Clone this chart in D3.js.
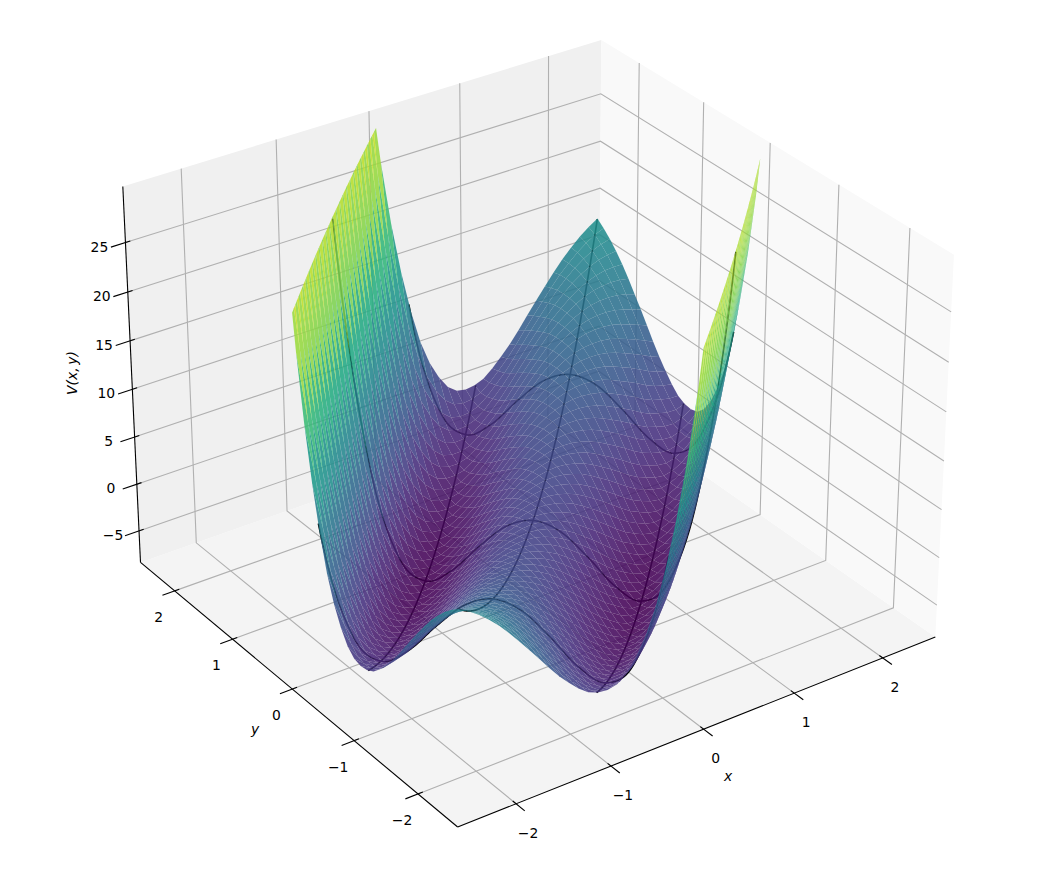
<!DOCTYPE html>
<html><head><meta charset="utf-8">
<script src="https://cdn.jsdelivr.net/npm/d3@7"></script>
<style>html,body{margin:0;background:#fff}svg{display:block}text{font-family:"DejaVu Sans";font-size:13.9px;fill:#000}</style>
</head><body><svg id="c" width="1040" height="875"></svg>
<script>
const xTicks=[-2,-1,0,1,2], yTicks=[-2,-1,0,1,2], zTicks=[-5,0,5,10,15,20,25];
const uSamples=[-2,-1.75,-1.5,-1.25,-1,-.75,-.5,-.25,0,.25,.5,.75,1,1.25,1.5,1.75,2];
const vSamples=[-5,-4,-3,-2,-1,0,1,2,3,4,5];
const surfaceValues=[
[85,49.4,29.2,19.9,17.5,18.9,21.7,24.1,25,24.1,21.7,18.9,17.5,19.9,29.2,49.4,85],
[76,40.4,20.2,10.9,8.5,9.9,12.7,15.1,16,15.1,12.7,9.9,8.5,10.9,20.2,40.4,76],
[69,33.4,13.2,3.9,1.5,2.9,5.7,8.1,9,8.1,5.7,2.9,1.5,3.9,13.2,33.4,69],
[64,28.4,8.2,-1.1,-3.5,-2.1,.7,3.1,4,3.1,.7,-2.1,-3.5,-1.1,8.2,28.4,64],
[61,25.4,5.2,-4.1,-6.5,-5.1,-2.3,.1,1,.1,-2.3,-5.1,-6.5,-4.1,5.2,25.4,61],
[60,24.4,4.2,-5.1,-7.5,-6.1,-3.3,-.9,0,-.9,-3.3,-6.1,-7.5,-5.1,4.2,24.4,60],
[61,25.4,5.2,-4.1,-6.5,-5.1,-2.3,.1,1,.1,-2.3,-5.1,-6.5,-4.1,5.2,25.4,61],
[64,28.4,8.2,-1.1,-3.5,-2.1,.7,3.1,4,3.1,.7,-2.1,-3.5,-1.1,8.2,28.4,64],
[69,33.4,13.2,3.9,1.5,2.9,5.7,8.1,9,8.1,5.7,2.9,1.5,3.9,13.2,33.4,69],
[76,40.4,20.2,10.9,8.5,9.9,12.7,15.1,16,15.1,12.7,9.9,8.5,10.9,20.2,40.4,76],
[85,49.4,29.2,19.9,17.5,18.9,21.7,24.1,25,24.1,21.7,18.9,17.5,19.9,29.2,49.4,85]];
const lineU=[-1,0,1], lineV=[-2,0,2];
const xLim=[-2.604,2.604], yLim=[-2.604,2.604], zLim=[-8.4,30.6];
const domainHalf=2.5, meshCells=49, zCap=29.3;
const colorDomain=[-7.5,31.5];

const elev=30*Math.PI/180, azim=-125*Math.PI/180, dist=10;
const box=[1.1905,1.1905,0.8929];
const sx=d3.scaleLinear().domain(xLim).range([-box[0]/2,box[0]/2]);
const sy=d3.scaleLinear().domain(yLim).range([-box[1]/2,box[1]/2]);
const sz=d3.scaleLinear().domain(zLim).range([-box[2]/2,box[2]/2]);
const W=[Math.cos(elev)*Math.cos(azim),Math.cos(elev)*Math.sin(azim),Math.sin(elev)];
const Un=Math.hypot(W[0],W[1]);const U=[-W[1]/Un,W[0]/Un,0];
const V=[W[1]*U[2]-W[2]*U[1],W[2]*U[0]-W[0]*U[2],W[0]*U[1]-W[1]*U[0]];
const px=d3.scaleLinear().domain([-1,1]).range([533-4900,533+4900]);
const py=d3.scaleLinear().domain([-1,1]).range([414+4900,414-4900]);
function view(x,y,z){const p=[sx(x),sy(y),sz(z)];
 const d=p[0]*W[0]+p[1]*W[1]+p[2]*W[2];
 const a=p[0]*U[0]+p[1]*U[1], b=p[0]*V[0]+p[1]*V[1]+p[2]*V[2];
 return {a:a/(dist-d),b:b/(dist-d),d};}
function proj(x,y,z){const v=view(x,y,z);return [px(v.a),py(v.b)];}

const uPos=d3.scaleLinear().domain(d3.extent(uSamples)).range([0,uSamples.length-1]).clamp(true);
const vPos=d3.scaleLinear().domain(d3.extent(vSamples)).range([0,vSamples.length-1]).clamp(true);
function cr(a,b,c,d,t){return .5*(2*b+(c-a)*t+(2*a-5*b+4*c-d)*t*t+(3*b-a-3*c+d)*t*t*t);}
function sample(u,v){
 const fu=uPos(u),fv=vPos(v);
 const iu=Math.max(1,Math.min(uSamples.length-3,Math.floor(fu))),iv=Math.max(1,Math.min(vSamples.length-3,Math.floor(fv)));
 const tu=fu-iu,tv=fv-iv,rows=[];
 for(let j=-1;j<=2;j++){const r=surfaceValues[iv+j];rows.push(cr(r[iu-1],r[iu],r[iu+1],r[iu+2],tu));}
 return cr(rows[0],rows[1],rows[2],rows[3],tv);
}
const S2=Math.SQRT2;
const zAt=(x,y)=>sample((x-y)/S2,(x+y)/S2);
const inside=(x,y)=>Math.abs(x)<=domainHalf+1e-9&&Math.abs(y)<=domainHalf+1e-9&&zAt(x,y)<=zCap;

const svg=d3.select('#c');
const pathOf=d3.line();
const poly=pts=>pathOf(pts)+'Z';
const [x0,x1]=xLim,[y0,y1]=yLim,[z0,z1]=zLim;
// panes
svg.append('path').attr('d',poly([proj(x0,y0,z0),proj(x1,y0,z0),proj(x1,y1,z0),proj(x0,y1,z0)])).attr('fill','#f4f4f4');
svg.append('path').attr('d',poly([proj(x0,y1,z0),proj(x1,y1,z0),proj(x1,y1,z1),proj(x0,y1,z1)])).attr('fill','#f0f0f0');
svg.append('path').attr('d',poly([proj(x1,y1,z0),proj(x1,y0,z0),proj(x1,y0,z1),proj(x1,y1,z1)])).attr('fill','#f9f9f9');
// grids
const gridLines=[];
xTicks.forEach(t=>{gridLines.push([proj(t,y0,z0),proj(t,y1,z0),proj(t,y1,z1)]);});
yTicks.forEach(t=>{gridLines.push([proj(x0,t,z0),proj(x1,t,z0),proj(x1,t,z1)]);});
zTicks.forEach(t=>{gridLines.push([proj(x0,y1,t),proj(x1,y1,t),proj(x1,y0,t)]);});
svg.append('g').selectAll('path').data(gridLines).join('path').attr('d',d=>pathOf(d)).attr('fill','none').attr('stroke','#b0b0b0').attr('stroke-width',1.1);
// axes
const axisLines=[[proj(x0,y0,z0),proj(x1,y0,z0)],[proj(x0,y0,z0),proj(x0,y1,z0)],[proj(x0,y1,z0),proj(x0,y1,z1)]];
xTicks.forEach(t=>axisLines.push([proj(t,y0-.13,z0),proj(t,y0+.05,z0)]));
yTicks.forEach(t=>axisLines.push([proj(x0-.13,t,z0),proj(x0+.05,t,z0)]));
zTicks.forEach(t=>axisLines.push([proj(x0-.15,y1,t),proj(x0+.05,y1,t)]));
svg.append('g').selectAll('path').data(axisLines).join('path').attr('d',d=>pathOf(d)).attr('fill','none').attr('stroke','#000').attr('stroke-width',1.1);
// section lines
const params=d3.range(-3.6,3.6001,.01);
const sections=[];
lineU.forEach(u=>{const pts=[];params.forEach(v=>{const x=(u+v)/S2,y=(v-u)/S2;if(inside(x,y))pts.push(proj(x,y,zAt(x,y)));});sections.push(pts);});
lineV.forEach(v=>{const pts=[];params.forEach(u=>{const x=(u+v)/S2,y=(v-u)/S2;if(inside(x,y))pts.push(proj(x,y,zAt(x,y)));});sections.push(pts);});
svg.append('g').selectAll('path').data(sections).join('path').attr('d',d=>pathOf(d)).attr('fill','none').attr('stroke','#000').attr('stroke-width',1.6);
// surface
const color=d3.scaleSequential(d3.interpolateViridis).domain(colorDomain);
const gridPos=d3.scaleLinear().domain([0,meshCells]).range([-domainHalf,domainHalf]);
const grid=d3.range(meshCells+1).map(gridPos);
function capPolygon(c){const out=[];
 c.forEach((p,k)=>{const q=c[(k+1)%c.length];
  if(p[2]<=zCap)out.push(p);
  if((p[2]<=zCap)!==(q[2]<=zCap)){const t=(zCap-p[2])/(q[2]-p[2]);out.push([p[0]+t*(q[0]-p[0]),p[1]+t*(q[1]-p[1]),zCap]);}
 });return out;}
const quads=[];
for(let i=0;i<meshCells;i++)for(let j=0;j<meshCells;j++){
 const c=[[grid[i],grid[j]],[grid[i+1],grid[j]],[grid[i+1],grid[j+1]],[grid[i],grid[j+1]]].map(p=>[p[0],p[1],zAt(p[0],p[1])]);
 const k=capPolygon(c); if(k.length<3)continue;
 const vs=k.map(p=>view(p[0],p[1],p[2]));
 quads.push({pts:vs.map(q=>[px(q.a),py(q.b)]),z:d3.mean(k,p=>p[2]),d:d3.mean(vs,q=>q.d)});
}
quads.sort((a,b)=>d3.ascending(a.d,b.d));
svg.append('g').selectAll('path').data(quads).join('path').attr('d',d=>poly(d.pts)).attr('fill',d=>color(d.z)).attr('fill-opacity',.88);
// labels
const fmt=t=>String(t).replace('-','\u2212');
function labels(ts,pos,dx,dy){svg.append('g').selectAll('text').data(ts).join('text').attr('x',t=>pos(t)[0]+dx).attr('y',t=>pos(t)[1]+dy).attr('text-anchor','middle').attr('dominant-baseline','central').text(fmt);}
labels(xTicks,t=>proj(t,y0,z0),12,29);
labels(yTicks,t=>proj(x0,t,z0),-16,26);
labels(zTicks,t=>proj(x0,y1,t),-26,4);
const axl=(t,x,y,r)=>svg.append('text').attr('transform',`translate(${x},${y}) rotate(${r||0})`).attr('text-anchor','middle').attr('dominant-baseline','central').attr('font-style','italic').text(t);
axl('x',728,776);axl('y',255,729);
axl('V(x,\u2009y)',72,373,-90);
</script></body></html>
